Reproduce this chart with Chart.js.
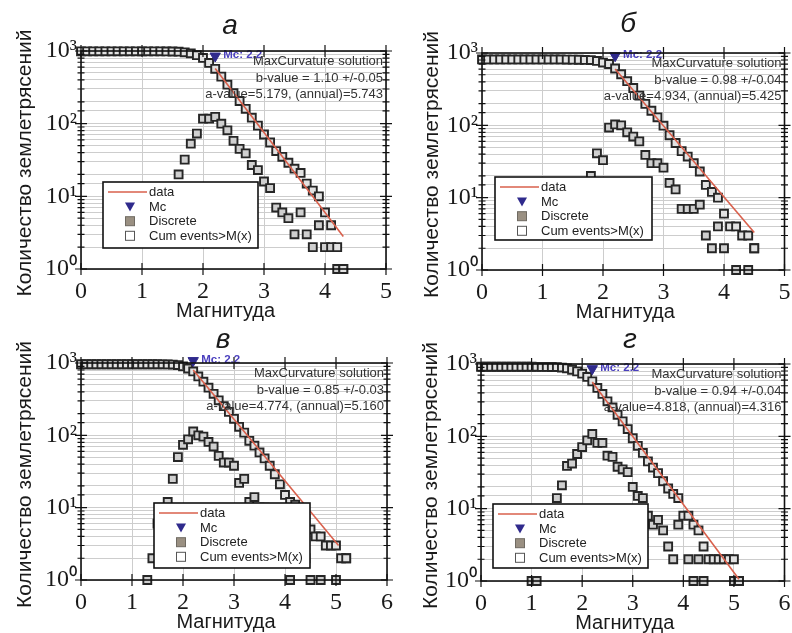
<!DOCTYPE html>
<html>
<head>
<meta charset="utf-8">
<script src="https://cdn.jsdelivr.net/npm/chart.js@4.4.1/dist/chart.umd.min.js"></script>
<style>
  html, body { margin: 0; background: #fff; }
  #wrap { position: relative; width: 792px; height: 633px; overflow: hidden; }
  canvas { position: absolute; }
</style>
</head>
<body>
<div id="wrap">
  <canvas id="cA" style="left:0;top:0"></canvas>
  <canvas id="cB" style="left:396px;top:0"></canvas>
  <canvas id="cV" style="left:0;top:316px"></canvas>
  <canvas id="cG" style="left:396px;top:316px"></canvas>
</div>
<script>
(function () {
  "use strict";

  // magnitude bins, 0.1 step
  const BINS = [0.0, 0.1, 0.2, 0.3, 0.4, 0.5, 0.6, 0.7, 0.8, 0.9,
    1.0, 1.1, 1.2, 1.3, 1.4, 1.5, 1.6, 1.7, 1.8, 1.9,
    2.0, 2.1, 2.2, 2.3, 2.4, 2.5, 2.6, 2.7, 2.8, 2.9,
    3.0, 3.1, 3.2, 3.3, 3.4, 3.5, 3.6, 3.7, 3.8, 3.9,
    4.0, 4.1, 4.2, 4.3, 4.4, 4.5, 4.6, 4.7, 4.8, 4.9,
    5.0, 5.1, 5.2];

  // ---- panel а ----
  const DISC_A = [null, null, null, null, null, null, null, null, null, null,
    null, null, null, null, null, null, 20, 32, 53, 73,
    117, 117, 124, 100, 81, 58, 45, 39, 27, 23,
    16, 13, 7, 6, 5, 3, 6, 3, 2, 4,
    2, 2, 1, 1];
  const CUM_A = [990, 990, 990, 990, 990, 990, 990, 990, 990, 990,
    990, 990, 990, 990, 987, 984, 980, 960, 928, 875,
    802, 685, 568, 444, 344, 263, 205, 160, 121, 94,
    71, 55, 42, 35, 29, 24, 21, 15, 12, 10,
    6, 4, 2, 1];
  const FIT_M_A = [2.2, 4.3];
  const FIT_N_A = [574, 2.8];
  const MC_A = 853;
  const NOTES_A = ["MaxCurvature solution", "b-value = 1.10 +/-0.05", "a-value=5.179, (annual)=5.743"];

  // ---- panel б ----
  const DISC_B = [null, null, null, null, null, null, null, null, null, null,
    null, null, null, null, null, null, null, null, 20, 41,
    33, 93, 103, 100, 80, 70, 60, 39, 30, 30,
    26, 16, 13, 7, 7, 7, 8, 3, 2, 4,
    2, null, 1, null, 1, 2];
  const CUM_B = [815, 815, 815, 815, 815, 815, 815, 815, 815, 815,
    815, 815, 815, 814, 812, 810, 806, 802, 798, 778,
    737, 704, 611, 508, 408, 328, 258, 198, 159, 129,
    99, 73, 57, 44, 37, 30, 23, 15, 12, 10,
    6, 4, 4, 3, 3, 2];
  const FIT_M_B = [2.2, 4.5];
  const FIT_N_B = [600, 3.3];
  const MC_B = 916;
  const NOTES_B = ["MaxCurvature solution", "b-value = 0.98 +/-0.04", "a-value=4.934, (annual)=5.425"];

  // ---- panel в ----
  const DISC_V = [null, null, null, null, null, null, null, null, null, null,
    null, null, null, 1, 2, 6, 9, 12, 25, 50,
    74, 88, 113, 100, 96, 81, 70, 52, 42, 42,
    38, 22, 25, 12, 14, 10, 10, 9, 8, 6,
    3, 1, 2, 2, 2, 1, null, 1, null, null,
    1, null, 2];
  const CUM_V = [960, 960, 960, 960, 960, 960, 960, 960, 960, 960,
    960, 960, 960, 960, 960, 960, 958, 955, 950, 935,
    900, 840, 765, 652, 552, 456, 375, 305, 253, 211,
    169, 131, 109, 84, 72, 58, 48, 38, 29, 21,
    15, 12, 11, 9, 7, 5, 4, 4, 3, 3,
    3, 2, 2];
  const FIT_M_V = [2.2, 5.05];
  const FIT_N_V = [802, 3.0];
  const MC_V = 1080;
  const NOTES_V = ["MaxCurvature solution", "b-value = 0.85 +/-0.03", "a-value=4.774, (annual)=5.160"];

  // ---- panel г ----
  const DISC_G = [null, null, null, null, null, null, null, null, null, null,
    1, 1, null, null, null, 14, 21, 39, 42, 57,
    71, 88, 108, 81, 81, 54, 52, 38, 35, 32,
    20, 15, 14, 8, 6, 7, 5, 3, 2, 6,
    null, 2, 1, 2, 1, null, null, null, null, null,
    1, 1, null];
  const CUM_G = [916, 916, 916, 916, 916, 916, 916, 916, 916, 916,
    916, 915, 912, 910, 908, 907, 893, 872, 833, 791,
    734, 663, 575, 467, 386, 305, 251, 199, 161, 126,
    94, 74, 59, 45, 37, 31, 24, 19, 16, 14,
    8, 8, 6, 5, 3, 2, 2, 2, 2, 2,
    2, 1, null];
  const FIT_M_G = [2.2, 5.1];
  const FIT_N_G = [562, 1.06];
  const MC_G = 862;
  const NOTES_G = ["MaxCurvature solution", "b-value = 0.94 +/-0.04", "a-value=4.818, (annual)=4.316"];

  const MC_MAG = 2.2;
  const Y_TITLE = "Количество землетрясений";
  const X_TITLE = "Магнитуда";
  const LEGEND_ITEMS = ["data", "Mc", "Discrete", "Cum events>M(x)"];

  const SANS = '"Liberation Sans", Arial, sans-serif';
  const SERIF = '"Liberation Serif", "Times New Roman", serif';
  const SUP = ["⁰", "¹", "²", "³"];
  const GRID = "#cdcdcd";

  const panels = [
    { id: "cA", letter: "а", xMax: 5, disc: DISC_A, cum: CUM_A, fitM: FIT_M_A, fitN: FIT_N_A, mc: MC_A, notes: NOTES_A,
      W: 396, H: 330, area: { left: 81, right: 386, top: 51, bottom: 269 },
      legend: { x: 103, y: 182, w: 155, h: 66 }, yTitleX: 25, letterX: 230, letterY: 34 },
    { id: "cB", letter: "б", xMax: 5, disc: DISC_B, cum: CUM_B, fitM: FIT_M_B, fitN: FIT_N_B, mc: MC_B, notes: NOTES_B,
      W: 396, H: 330, area: { left: 86, right: 391, top: 53, bottom: 270 },
      legend: { x: 99, y: 177, w: 157, h: 63 }, yTitleX: 36, letterX: 232, letterY: 32 },
    { id: "cV", letter: "в", xMax: 6, disc: DISC_V, cum: CUM_V, fitM: FIT_M_V, fitN: FIT_N_V, mc: MC_V, notes: NOTES_V,
      W: 396, H: 317, area: { left: 81, right: 387, top: 47, bottom: 264 },
      legend: { x: 154, y: 187, w: 156, h: 65 }, yTitleX: 25, letterX: 223, letterY: 32 },
    { id: "cG", letter: "г", xMax: 6, disc: DISC_G, cum: CUM_G, fitM: FIT_M_G, fitN: FIT_N_G, mc: MC_G, notes: NOTES_G,
      W: 396, H: 317, area: { left: 85, right: 391, top: 48, bottom: 265 },
      legend: { x: 97, y: 188, w: 155, h: 64 }, yTitleX: 35, letterX: 234, letterY: 32 },
  ];

  function toPoints(xs, ys) {
    return ys.map((v, i) => ({ x: xs[i], y: v })).filter((p) => p.y != null);
  }

  function isDecade(v) {
    const l = Math.log10(v);
    return Math.abs(l - Math.round(l)) < 1e-6;
  }

  function makeDecor(p) {
    return {
      id: "decor",
      afterDatasetsDraw(chart) {
        const ctx = chart.ctx;
        const a = chart.chartArea;
        const xs = chart.scales.x;
        const ys = chart.scales.y;
        ctx.save();

        // Mc label
        const mx = xs.getPixelForValue(MC_MAG);
        const my = ys.getPixelForValue(p.mc);
        ctx.fillStyle = "#4a3fbe";
        ctx.font = "bold 11.5px " + SANS;
        ctx.textAlign = "left";
        ctx.textBaseline = "middle";
        ctx.fillText("Mc: 2.2", mx + 8, my - 1);

        // fit text
        ctx.fillStyle = "#333";
        ctx.font = "13px " + SANS;
        ctx.textAlign = "right";
        const ny = [10, 27, 43];
        p.notes.forEach((t, i) => ctx.fillText(t, a.right - 3, a.top + ny[i]));

        // legend box
        const L = p.legend;
        ctx.fillStyle = "#fff";
        ctx.fillRect(L.x, L.y, L.w, L.h);
        ctx.strokeStyle = "#111";
        ctx.lineWidth = 1.6;
        ctx.strokeRect(L.x, L.y, L.w, L.h);
        const rowY = (i) => L.y + 10 + i * 14.6;
        const sx = L.x + 27;
        // data line
        ctx.strokeStyle = "#d9604c";
        ctx.lineWidth = 1.6;
        ctx.beginPath();
        ctx.moveTo(L.x + 5, rowY(0));
        ctx.lineTo(L.x + 44, rowY(0));
        ctx.stroke();
        // Mc triangle
        ctx.fillStyle = "#2f2a8c";
        ctx.beginPath();
        ctx.moveTo(sx - 5, rowY(1) - 4);
        ctx.lineTo(sx + 5, rowY(1) - 4);
        ctx.lineTo(sx, rowY(1) + 5);
        ctx.closePath();
        ctx.fill();
        // discrete square
        ctx.fillStyle = "#9a9082";
        ctx.strokeStyle = "#6f6a62";
        ctx.lineWidth = 1;
        ctx.fillRect(sx - 4.5, rowY(2) - 4.5, 9, 9);
        ctx.strokeRect(sx - 4.5, rowY(2) - 4.5, 9, 9);
        // cum square
        ctx.fillStyle = "#fff";
        ctx.strokeStyle = "#555";
        ctx.strokeRect(sx - 4.5, rowY(3) - 4.5, 9, 9);
        ctx.fillStyle = "#222";
        ctx.font = "13px " + SANS;
        ctx.textAlign = "left";
        LEGEND_ITEMS.forEach((t, i) => ctx.fillText(t, L.x + 46, rowY(i) + 0.5));

        // axes box
        ctx.strokeStyle = "#111";
        ctx.lineWidth = 1.6;
        ctx.strokeRect(a.left, a.top, a.right - a.left, a.bottom - a.top);
        ctx.lineWidth = 1.2;
        ctx.beginPath();
        ys.ticks.forEach((t) => {
          const py = ys.getPixelForValue(t.value);
          const len = isDecade(t.value) ? 6 : 3.5;
          ctx.moveTo(a.left - len, py);
          ctx.lineTo(a.left + len, py);
          ctx.moveTo(a.right - len, py);
          ctx.lineTo(a.right + len, py);
        });
        xs.ticks.forEach((t) => {
          const px = xs.getPixelForValue(t.value);
          ctx.moveTo(px, a.bottom - 6);
          ctx.lineTo(px, a.bottom + 6);
          ctx.moveTo(px, a.top - 6);
          ctx.lineTo(px, a.top + 6);
        });
        ctx.stroke();
        ctx.restore();
      },
      afterDraw(chart) {
        const ctx = chart.ctx;
        const a = chart.chartArea;
        ctx.save();
        ctx.fillStyle = "#1a1a1a";
        // panel letter
        ctx.font = "italic 28px " + SANS;
        ctx.textAlign = "center";
        ctx.textBaseline = "alphabetic";
        ctx.fillText(p.letter, p.letterX, p.letterY);
        // x title
        ctx.font = "20px " + SANS;
        ctx.textBaseline = "middle";
        ctx.fillText(X_TITLE, (a.left + a.right) / 2 - 8, a.bottom + 42);
        // y title
        ctx.font = "21px " + SANS;
        ctx.translate(p.yTitleX, (a.top + a.bottom) / 2 + 3);
        ctx.rotate(-Math.PI / 2);
        ctx.fillText(Y_TITLE, 0, 0);
        ctx.restore();
      },
    };
  }

  function build(p) {
    const cv = document.getElementById(p.id);
    cv.width = p.W;
    cv.height = p.H;
    cv.style.width = p.W + "px";
    cv.style.height = p.H + "px";
    const A = p.area;
    const squares = {
      pointStyle: "rect",
      pointRadius: 5.6,
      borderWidth: 1.9,
      borderColor: "#262626",
      showLine: false,
      clip: false,
    };
    new Chart(cv.getContext("2d"), {
      type: "scatter",
      data: {
        datasets: [
          {
            label: "data",
            data: toPoints(p.fitM, p.fitN),
            showLine: true,
            borderColor: "#d9604c",
            borderWidth: 1.6,
            pointRadius: 0,
            clip: false,
          },
          {
            label: "Mc",
            data: [{ x: MC_MAG, y: p.mc }],
            pointStyle: "triangle",
            rotation: 180,
            pointRadius: 6,
            backgroundColor: "#2f2a8c",
            borderColor: "#2f2a8c",
            borderWidth: 1,
            clip: false,
          },
          Object.assign({ label: "Cum events>M(x)", data: toPoints(BINS, p.cum), backgroundColor: "#e2e2e2" }, squares),
          Object.assign({ label: "Discrete", data: toPoints(BINS, p.disc), backgroundColor: "#cfcfcf" }, squares),
        ],
      },
      options: {
        responsive: false,
        devicePixelRatio: 1,
        animation: false,
        events: [],
        layout: { padding: { top: A.top, right: p.W - A.right, left: 0, bottom: 0 } },
        plugins: { legend: { display: false }, tooltip: { enabled: false } },
        scales: {
          x: {
            type: "linear",
            min: 0,
            max: p.xMax,
            border: { display: false },
            grid: { color: GRID, lineWidth: 1, drawTicks: false },
            ticks: {
              stepSize: 1,
              padding: 8,
              color: "#1a1a1a",
              font: { family: SERIF, size: 24 },
              callback: (v) => String(v),
            },
            afterFit(scale) {
              scale.height = p.H - A.bottom;
              scale.paddingLeft = 0;
              scale.paddingRight = 0;
            },
          },
          y: {
            type: "logarithmic",
            min: 1,
            max: 1000,
            border: { display: false },
            grid: { color: GRID, lineWidth: 1, drawTicks: false },
            ticks: {
              autoSkip: false,
              padding: 4,
              color: "#1a1a1a",
              font: { family: SERIF, size: 24 },
              callback: (v) => (isDecade(v) ? "10" + SUP[Math.round(Math.log10(v))] : ""),
            },
            afterFit(scale) {
              scale.width = A.left;
              scale.paddingTop = 0;
              scale.paddingBottom = 0;
            },
          },
        },
      },
      plugins: [makeDecor(p)],
    });
  }

  panels.forEach(build);
})();
</script>
</body>
</html>
